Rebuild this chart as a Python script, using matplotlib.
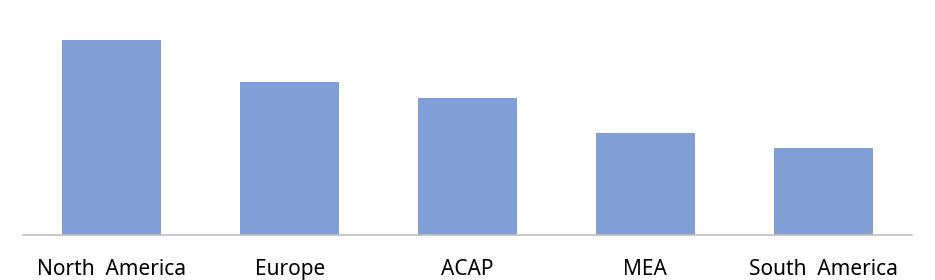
import matplotlib.pyplot as plt
import numpy as np

# Regions and bar heights
regions = ['North  America', 'Europe', 'ACAP', 'MEA', 'South  America']
values = [195, 153, 137, 102, 87]

fig = plt.figure(figsize=(9.35, 2.8), dpi=100)
ax = fig.add_axes([23 / 935, 45 / 280, 889 / 935, 235 / 280])

x = np.arange(len(regions))
ax.bar(x, values, width=0.556, color='#7f9fd6')

ax.set_xlim(-0.5, len(regions) - 0.5)
ax.set_ylim(0, 235)
ax.set_yticks([])
ax.set_xticks(x)
ax.set_xticklabels(regions, fontsize=15, family=['Noto Sans', 'DejaVu Sans'])
ax.tick_params(axis='x', length=0, pad=17)

for side in ['top', 'right', 'left']:
    ax.spines[side].set_visible(False)
ax.spines['bottom'].set_color('#bfbfbf')
ax.spines['bottom'].set_linewidth(1.2)

fig.savefig('out.png', dpi=100)
